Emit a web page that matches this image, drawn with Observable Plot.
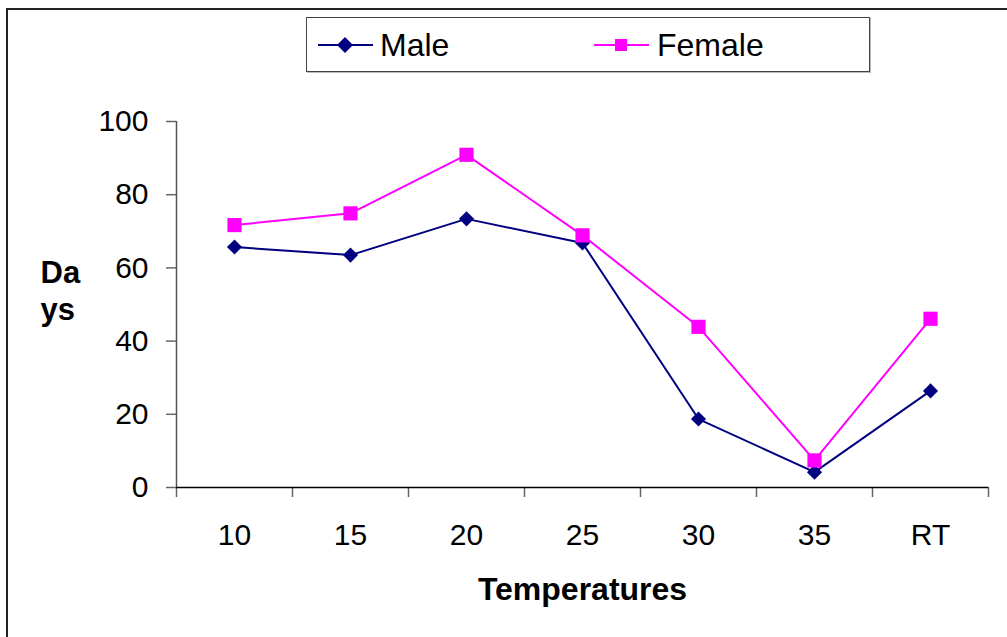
<!DOCTYPE html>
<html><head><meta charset="utf-8">
<script src="https://cdn.jsdelivr.net/npm/d3@7"></script>
<script src="https://cdn.jsdelivr.net/npm/@observablehq/plot@0.6"></script>
<style>
body{margin:0;background:#fff;font-family:"Liberation Sans",Arial,sans-serif;}
#wrap{position:relative;width:1007px;height:637px;overflow:hidden;background:#fff;}
#frame{position:absolute;left:6px;top:8px;width:1020px;height:650px;border:2px solid #222;box-sizing:border-box;pointer-events:none;}
#legend{position:absolute;left:306px;top:17px;width:564px;height:55px;border:1px solid #444;box-shadow:1px 1px 0 #bbb;background:#fff;box-sizing:border-box;}
.item{position:absolute;top:0;height:55px;line-height:55px;font-size:32px;color:#000;white-space:nowrap;}
.sw{position:absolute;top:16px;}
#chart{position:absolute;left:0;top:0;}
</style>
</head><body>
<div id="wrap">
  <div id="chart"></div>
  <div id="frame"></div>
  <div id="legend"></div>
</div>
<script>
const categories = ["10", "15", "20", "25", "30", "35", "RT"];
const maleValues = [65.7, 63.5, 73.4, 66.8, 18.7, 4.2, 26.4];
const femaleValues = [71.7, 74.9, 90.9, 68.9, 43.9, 7.4, 46.1];
const seriesNames = ["Male", "Female"];
const seriesColors = ["#000080", "#FF00FF"];
const yTicks = [0, 20, 40, 60, 80, 100];
const xTitle = "Temperatures";
const yTitle = "Da\nys";

const toRows = (name, vals) => vals.map((v, i) => ({series: name, cat: categories[i], pos: i + 0.5, v}));
const maleRows = toRows("Male", maleValues);
const femaleRows = toRows("Female", femaleValues);
const allRows = maleRows.concat(femaleRows);

const font = '"Liberation Sans", Arial, sans-serif';

const chart = Plot.plot({
  width: 1007,
  height: 637,
  marginTop: 121,
  marginBottom: 150,
  marginLeft: 176,
  marginRight: 19,
  x: {domain: [0, categories.length], axis: null},
  y: {domain: [0, 100], axis: null},
  color: {domain: seriesNames, range: seriesColors},
  style: {fontFamily: font, fontSize: "30px", color: "#000", background: "transparent", overflow: "visible"},
  marks: [
    Plot.axisY({ticks: yTicks, tickSize: 10, tickPadding: 18, label: null, stroke: "#666", strokeWidth: 1.5, fontSize: 30}),
    Plot.axisX({ticks: d3.range(categories.length + 1), tickSize: 10, tickFormat: () => "", label: null, stroke: "#666", strokeWidth: 1.5}),
    Plot.axisX({ticks: categories.map((c, i) => i + 0.5), tickSize: 0, tickPadding: 36, tickFormat: d => categories[Math.round(d - 0.5)], label: null, fontSize: 30}),
    Plot.ruleX([0], {stroke: "#555", strokeWidth: 1.5}),
    Plot.ruleY([0], {stroke: "#000", strokeWidth: 1.5}),
    Plot.text([xTitle], {frameAnchor: "bottom", dy: 90, lineAnchor: "top", fontWeight: "bold", fontSize: 32}),
    Plot.text([yTitle], {frameAnchor: "left", dx: -136, dy: -48, textAnchor: "start", lineAnchor: "top", lineHeight: 1.2, fontWeight: "bold", fontSize: 31}),
    Plot.line(allRows, {x: "pos", y: "v", z: "series", stroke: "series", strokeWidth: 2}),
    Plot.dot(maleRows, {x: "pos", y: "v", symbol: "diamond2", r: 6.8, fill: "series", stroke: null}),
    Plot.dot(femaleRows, {x: "pos", y: "v", symbol: "square", r: 8, fill: "series", stroke: null})
  ]
});
document.getElementById("chart").appendChild(chart);

// Legend
const legend = document.getElementById("legend");
const legendLayout = [{sw: 11, tx: 73}, {sw: 287, tx: 350}];
seriesNames.forEach((name, k) => {
  const color = seriesColors[k];
  const sw = document.createElementNS("http://www.w3.org/2000/svg", "svg");
  sw.setAttribute("width", 56); sw.setAttribute("height", 22);
  sw.setAttribute("class", "sw");
  sw.style.left = legendLayout[k].sw + "px";
  const marker = k === 0
    ? `<path d="M27,3 L35,11 L27,19 L19,11 Z" fill="${color}"/>`
    : `<rect x="21" y="5" width="12" height="12" fill="${color}"/>`;
  sw.innerHTML = `<line x1="0" x2="55" y1="11" y2="11" stroke="${color}" stroke-width="2"/>` + marker;
  legend.appendChild(sw);
  const t = document.createElement("div");
  t.className = "item";
  t.style.left = legendLayout[k].tx + "px";
  t.textContent = name;
  legend.appendChild(t);
});
</script>
</body></html>
